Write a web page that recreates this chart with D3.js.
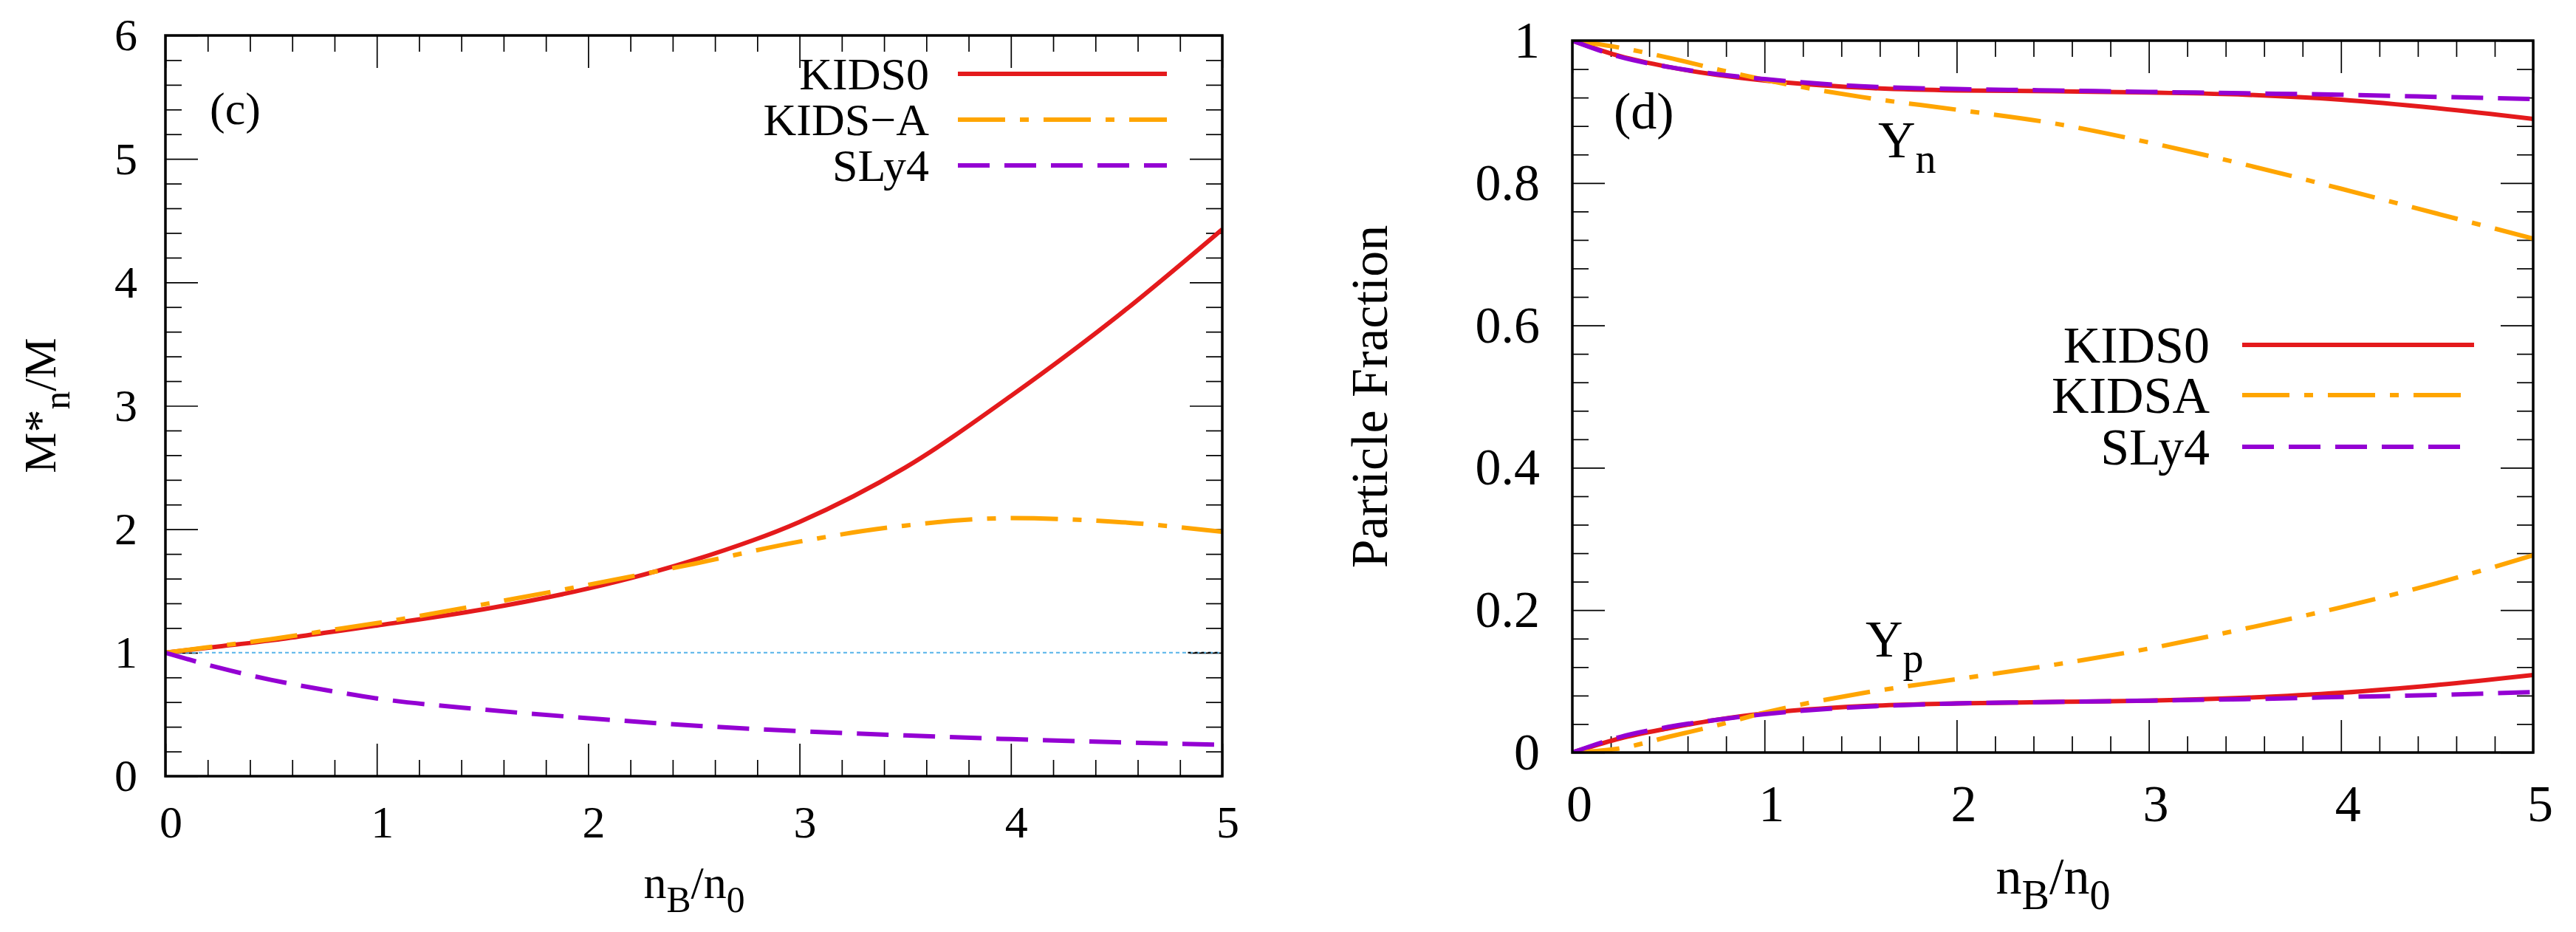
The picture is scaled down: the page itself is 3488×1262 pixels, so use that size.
<!DOCTYPE html>
<html>
<head>
<meta charset="utf-8">
<script src="https://cdn.jsdelivr.net/npm/d3@7"></script>
<style>
  body { margin: 0; background: #fff; }
  svg, svg text { font-family: "Liberation Serif", "Times New Roman", Times, "DejaVu Serif", serif; fill: #000; }
</style>
</head>
<body>
<div id="vis"></div>
<script>
const FRAME_WIDTH = 3488;
const FRAME_HEIGHT = 1262;
const SERIF = '"Liberation Serif", "Times New Roman", Times, "DejaVu Serif", serif';

// data
const xTicks = [0, 1, 2, 3, 4, 5];
const leftYTicks = [0, 1, 2, 3, 4, 5, 6];
const rightYTicks = [0, 0.2, 0.4, 0.6, 0.8, 1];

const nB = [0, 0.25, 0.5, 0.75, 1, 1.5, 2, 2.5, 3, 3.5, 4, 4.5, 5];

// (c) effective mass
const massKIDS0 = [1.0, 1.05, 1.1, 1.16, 1.22, 1.35, 1.52, 1.75, 2.06, 2.5, 3.08, 3.72, 4.43];
const massKIDSA = [1.0, 1.055, 1.11, 1.175, 1.24, 1.39, 1.55, 1.72, 1.9, 2.03, 2.09, 2.06, 1.98];
const massSLy4 = [1.0, 0.88, 0.78, 0.7, 0.63, 0.54, 0.47, 0.41, 0.365, 0.33, 0.3, 0.275, 0.255];
const refX = [0, 5];
const refY = [1, 1];
const refEndX = [4.82, 5];

// (d) particle fractions
const ynKIDS0 = [1.0, 0.978, 0.963, 0.952, 0.944, 0.934, 0.93, 0.929, 0.927, 0.924, 0.917, 0.905, 0.89];
const ynKIDSA = [1.0, 0.99, 0.976, 0.96, 0.945, 0.921, 0.903, 0.884, 0.857, 0.826, 0.792, 0.757, 0.722];
const ynSLy4 = [1.0, 0.977, 0.963, 0.953, 0.946, 0.936, 0.932, 0.93, 0.928, 0.926, 0.924, 0.921, 0.918];
const ypKIDS0 = [0, 0.02, 0.034, 0.046, 0.055, 0.065, 0.069, 0.071, 0.073, 0.077, 0.084, 0.095, 0.109];
const ypKIDSA = [0, 0.006, 0.022, 0.038, 0.056, 0.083, 0.103, 0.123, 0.146, 0.174, 0.204, 0.238, 0.277];
const ypSLy4 = [0, 0.022, 0.036, 0.046, 0.054, 0.064, 0.069, 0.071, 0.073, 0.075, 0.078, 0.081, 0.085];

const leftNames = ['KIDS0', 'KIDS\u2212A', 'SLy4'];
const rightNames = ['KIDS0', 'KIDSA', 'SLy4'];

const COLORS = ['#e41a1c', '#ffa500', '#9400d3'];
const DASHES = ['none', '64,20,12,20', '43,20'];
const LW = 6;

const SVG = d3.select('#vis')
  .append('svg')
    .attr('width', FRAME_WIDTH)
    .attr('height', FRAME_HEIGHT)
    .attr('font-family', SERIF);

// draws one panel: ticks and tick labels; returns scales
function panel(box, yDomain, yTicks, yMinorStep, fontSize, id) {
  const X = d3.scaleLinear().domain([0, 5]).range([box.x0, box.x1]);
  const Y = d3.scaleLinear().domain(yDomain).range([box.y1, box.y0]);
  const xMinor = d3.range(0, 5.0001, 0.2).filter(v => Math.abs(v - Math.round(v)) > 1e-6);
  const yMinor = d3.range(yDomain[0], yDomain[1] + 1e-6, yMinorStep)
    .filter(v => !yTicks.some(t => Math.abs(t - v) < 1e-6));

  SVG.append('clipPath').attr('id', id)
    .append('rect')
      .attr('x', box.x0).attr('y', box.y0)
      .attr('width', box.x1 - box.x0).attr('height', box.y1 - box.y0);

  const tick = (g) => {
    g.select('.domain').remove();
    g.selectAll('line').attr('stroke', '#000').attr('stroke-width', 1.7);
  };

  // ticks on all four sides, pointing in
  SVG.append('g').attr('transform', 'translate(0,' + box.y1 + ')')
    .call(d3.axisBottom(X).tickValues(xTicks).tickSize(-44).tickFormat('')).call(tick);
  SVG.append('g').attr('transform', 'translate(0,' + box.y1 + ')')
    .call(d3.axisBottom(X).tickValues(xMinor).tickSize(-22).tickFormat('')).call(tick);
  SVG.append('g').attr('transform', 'translate(0,' + box.y0 + ')')
    .call(d3.axisTop(X).tickValues(xTicks).tickSize(-44).tickFormat('')).call(tick);
  SVG.append('g').attr('transform', 'translate(0,' + box.y0 + ')')
    .call(d3.axisTop(X).tickValues(xMinor).tickSize(-22).tickFormat('')).call(tick);
  SVG.append('g').attr('transform', 'translate(' + box.x0 + ',0)')
    .call(d3.axisLeft(Y).tickValues(yTicks).tickSize(-44).tickFormat('')).call(tick);
  SVG.append('g').attr('transform', 'translate(' + box.x0 + ',0)')
    .call(d3.axisLeft(Y).tickValues(yMinor).tickSize(-22).tickFormat('')).call(tick);
  SVG.append('g').attr('transform', 'translate(' + box.x1 + ',0)')
    .call(d3.axisRight(Y).tickValues(yTicks).tickSize(-44).tickFormat('')).call(tick);
  SVG.append('g').attr('transform', 'translate(' + box.x1 + ',0)')
    .call(d3.axisRight(Y).tickValues(yMinor).tickSize(-22).tickFormat('')).call(tick);

  // tick labels
  const lab = (g) => {
    g.attr('font-family', SERIF).attr('font-size', fontSize);
    g.select('.domain').remove();
    g.selectAll('line').remove();
    g.selectAll('text').attr('fill', '#000');
  };
  SVG.append('g').attr('transform', 'translate(' + box.xLabShift + ',' + box.y1 + ')')
    .call(d3.axisBottom(X).tickValues(xTicks).tickSize(0).tickPadding(box.xPad)
      .tickFormat(d3.format('~g'))).call(lab);
  SVG.append('g').attr('transform', 'translate(' + box.x0 + ',0)')
    .call(d3.axisLeft(Y).tickValues(yTicks).tickSize(0).tickPadding(box.yPad)
      .tickFormat(d3.format('~g'))).call(lab);

  return {X, Y};
}

function frame(box) {
  SVG.append('rect')
    .attr('x', box.x0).attr('y', box.y0)
    .attr('width', box.x1 - box.x0).attr('height', box.y1 - box.y0)
    .attr('fill', 'none').attr('stroke', '#000').attr('stroke-width', 3.5);
}

function curve(sc, clip, xs, ys, i) {
  const line = d3.line()
    .x((d, k) => sc.X(xs[k]))
    .y(d => sc.Y(d))
    .curve(d3.curveMonotoneX);
  SVG.append('path')
    .datum(ys)
    .attr('clip-path', 'url(#' + clip + ')')
    .attr('d', line)
    .attr('fill', 'none')
    .attr('stroke', COLORS[i])
    .attr('stroke-width', LW)
    .attr('stroke-dasharray', DASHES[i]);
}

function legend(names, xText, xLine0, xLine1, ys, fontSize) {
  names.forEach((n, i) => {
    SVG.append('text')
      .attr('x', xText).attr('y', ys[i]).attr('dy', '0.34em')
      .attr('text-anchor', 'end').attr('font-size', fontSize)
      .text(n);
    SVG.append('line')
      .attr('x1', xLine0).attr('x2', xLine1)
      .attr('y1', ys[i]).attr('y2', ys[i])
      .attr('stroke', COLORS[i]).attr('stroke-width', LW)
      .attr('stroke-dasharray', DASHES[i]);
  });
}

// text with subscripts: parts = [[text, isSub], ...]
function subText(g, parts, fontSize) {
  parts.forEach(([t, sub], k) => {
    const prevSub = k > 0 && parts[k - 1][1];
    let dy = 0;
    if (sub && !prevSub) dy = 0.3 * fontSize;
    if (!sub && prevSub) dy = -0.3 * fontSize;
    g.append('tspan')
      .attr('dy', dy)
      .attr('font-size', sub ? fontSize * 0.8 : fontSize)
      .text(t);
  });
  return g;
}

// ---------- panel (c) ----------
const LBOX = {x0: 224, x1: 1655, y0: 48, y1: 1051, xPad: 39, yPad: 38, xLabShift: 7};
const L = panel(LBOX, [0, 6], leftYTicks, 0.2, 62, 'clipL');

SVG.append('path')
  .datum(refY)
  .attr('d', d3.line().x((d, k) => L.X(refX[k])).y(d => L.Y(d)))
  .attr('stroke', '#56b4e9').attr('stroke-width', 2)
  .attr('stroke-dasharray', '5,4').attr('fill', 'none');
SVG.append('path')
  .datum(refY)
  .attr('d', d3.line().x((d, k) => L.X(refEndX[k])).y(d => L.Y(d)))
  .attr('stroke', '#000').attr('stroke-width', 2)
  .attr('stroke-dasharray', '4,5').attr('stroke-dashoffset', 4).attr('fill', 'none');

curve(L, 'clipL', nB, massKIDS0, 0);
curve(L, 'clipL', nB, massKIDSA, 1);
curve(L, 'clipL', nB, massSLy4, 2);
frame(LBOX);

legend(leftNames, 1258, 1297, 1580, [100, 162, 224], 62);

SVG.append('text').attr('x', 284).attr('y', 168).attr('font-size', 62).text('(c)');

subText(SVG.append('text')
  .attr('transform', 'translate(75,549) rotate(-90)')
  .attr('text-anchor', 'middle'),
  [['M*', false], ['n', true], ['/M', false]], 62);

subText(SVG.append('text')
  .attr('x', 940).attr('y', 1216).attr('text-anchor', 'middle'),
  [['n', false], ['B', true], ['/n', false], ['0', true]], 62);

// ---------- panel (d) ----------
const RBOX = {x0: 2129, x1: 3430, y0: 55, y1: 1019, xPad: 43, yPad: 44, xLabShift: 9};
const R = panel(RBOX, [0, 1], rightYTicks, 0.04, 70, 'clipR');

curve(R, 'clipR', nB, ynKIDS0, 0);
curve(R, 'clipR', nB, ypKIDS0, 0);
curve(R, 'clipR', nB, ynKIDSA, 1);
curve(R, 'clipR', nB, ypKIDSA, 1);
curve(R, 'clipR', nB, ynSLy4, 2);
curve(R, 'clipR', nB, ypSLy4, 2);
frame(RBOX);

legend(rightNames, 2992, 3036, 3350, [467, 535, 605], 70);

SVG.append('text').attr('x', 2185).attr('y', 174).attr('font-size', 70).text('(d)');

subText(SVG.append('text').attr('x', 2543).attr('y', 213),
  [['Y', false], ['n', true]], 70);
subText(SVG.append('text').attr('x', 2526).attr('y', 889),
  [['Y', false], ['p', true]], 70);

SVG.append('text')
  .attr('transform', 'translate(1878,537) rotate(-90)')
  .attr('text-anchor', 'middle').attr('font-size', 70)
  .text('Particle Fraction');

subText(SVG.append('text')
  .attr('x', 2780).attr('y', 1210).attr('text-anchor', 'middle'),
  [['n', false], ['B', true], ['/n', false], ['0', true]], 70);
</script>
</body>
</html>
